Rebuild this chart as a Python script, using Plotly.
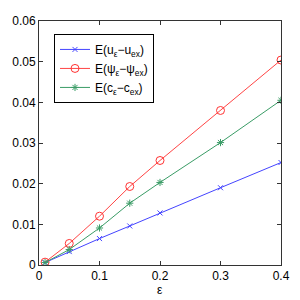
import plotly.graph_objects as go

eps = [0.01, 0.05, 0.1, 0.15, 0.2, 0.3, 0.4]
err_u = [0.0006, 0.0033, 0.0065, 0.0096, 0.0128, 0.0190, 0.0252]
err_psi = [0.0007, 0.0053, 0.0120, 0.0193, 0.0257, 0.0380, 0.0504]
err_c = [0.0006, 0.0038, 0.0091, 0.0152, 0.0203, 0.0301, 0.0405]
names = ["E(u<sub>ε</sub>−u<sub>ex</sub>)", "E(ψ<sub>ε</sub>−ψ<sub>ex</sub>)", "E(c<sub>ε</sub>−c<sub>ex</sub>)"]
xticks = [0, 0.1, 0.2, 0.3, 0.4]
yticks = [0, 0.01, 0.02, 0.03, 0.04, 0.05, 0.06]
xlabel = "ε"

fig = go.Figure()
fig.add_trace(go.Scatter(x=eps, y=err_u, name=names[0], mode="lines+markers",
                         line=dict(color="#4444ff", width=1),
                         marker=dict(symbol="x-thin-open", size=5, line=dict(color="#2222ee", width=1))))
fig.add_trace(go.Scatter(x=eps, y=err_psi, name=names[1], mode="lines+markers",
                         line=dict(color="#ff4444", width=1),
                         marker=dict(symbol="circle-open", size=8, color="#ff3333", line=dict(width=1))))
fig.add_trace(go.Scatter(x=eps, y=err_c, name=names[2], mode="lines+markers",
                         line=dict(color="#3a9c66", width=1),
                         marker=dict(symbol="asterisk-open", size=6, line=dict(color="#1e7a44", width=1))))

axis_common = dict(showline=True, mirror="ticks", linecolor="#333333", linewidth=1,
                   ticks="inside", ticklen=4, tickcolor="#333333", showgrid=False, zeroline=False,
                   automargin=False, tickfont=dict(size=12, color="black"))
fig.update_layout(
    width=292, height=292,
    margin=dict(l=31, r=19, t=13, b=35),
    paper_bgcolor="white", plot_bgcolor="white",
    font=dict(family="Liberation Sans, Arial, sans-serif", size=12, color="black"),
    xaxis=dict(range=[0, 0.4], tickvals=xticks, ticktext=[str(v) for v in xticks], **axis_common),
    yaxis=dict(range=[0, 0.06], tickvals=yticks, ticktext=[str(v) for v in yticks], **axis_common),
    legend=dict(x=0.062, y=0.947, xanchor="left", yanchor="top", bgcolor="white",
                bordercolor="black", borderwidth=1, font=dict(size=12), itemwidth=30),
    annotations=[dict(text=xlabel, x=0.5, y=0, xref="paper", yref="paper",
                      xanchor="center", yanchor="middle", yshift=-25, showarrow=False,
                      font=dict(size=12))],
    showlegend=True,
)
fig.write_html("out.html")
